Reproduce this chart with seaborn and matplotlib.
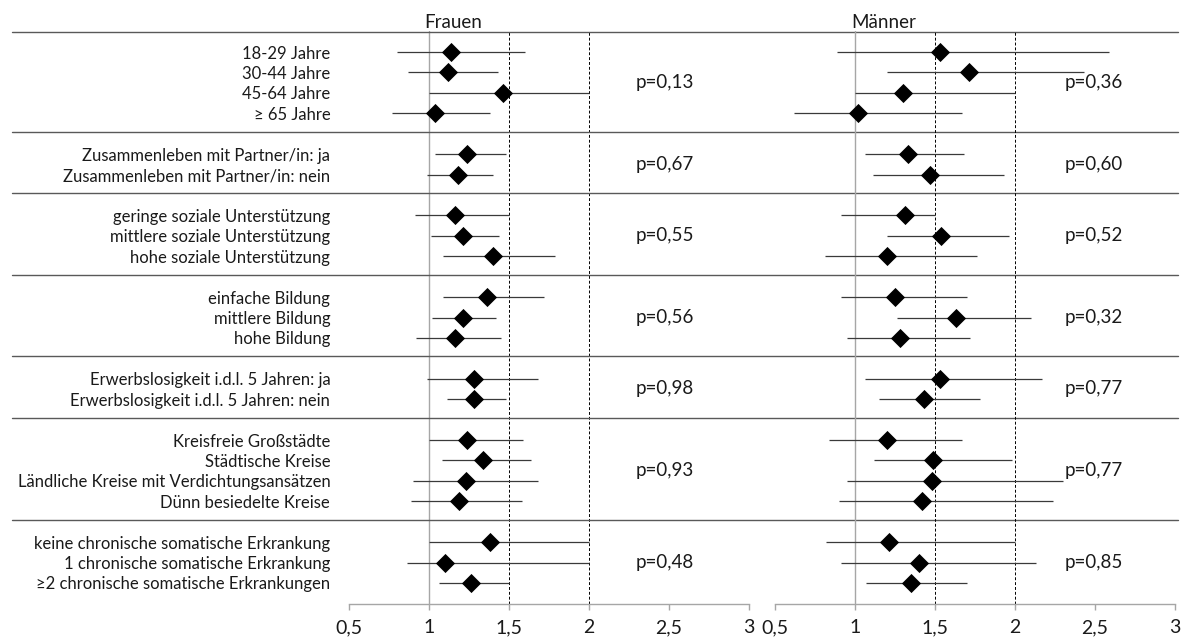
import numpy as np
import pandas as pd
import matplotlib
matplotlib.use("Agg")
import matplotlib.pyplot as plt
import matplotlib.transforms as mtransforms
import seaborn as sns

# rows per block (a blank row is left between blocks)
group_sizes = [4, 2, 3, 3, 2, 4, 3]

labels = [
    "18-29 Jahre", "30-44 Jahre", "45-64 Jahre", "≥ 65 Jahre",
    "Zusammenleben mit Partner/in: ja", "Zusammenleben mit Partner/in: nein",
    "geringe soziale Unterstützung", "mittlere soziale Unterstützung", "hohe soziale Unterstützung",
    "einfache Bildung", "mittlere Bildung", "hohe Bildung",
    "Erwerbslosigkeit i.d.l. 5 Jahren: ja", "Erwerbslosigkeit i.d.l. 5 Jahren: nein",
    "Kreisfreie Großstädte", "Städtische Kreise", "Ländliche Kreise mit Verdichtungsansätzen",
    "Dünn besiedelte Kreise",
    "keine chronische somatische Erkrankung", "1 chronische somatische Erkrankung",
    "≥2 chronische somatische Erkrankungen",
]

frauen_or = [1.14, 1.12, 1.46, 1.04, 1.24, 1.18, 1.16, 1.21, 1.40, 1.36, 1.21, 1.16,
             1.28, 1.28, 1.24, 1.34, 1.23, 1.19, 1.38, 1.10, 1.26]
frauen_lo = [0.80, 0.87, 1.00, 0.77, 1.04, 0.99, 0.91, 1.01, 1.09, 1.09, 1.02, 0.92,
             0.99, 1.11, 1.00, 1.08, 0.90, 0.89, 1.00, 0.86, 1.06]
frauen_hi = [1.60, 1.43, 2.00, 1.38, 1.48, 1.40, 1.50, 1.44, 1.79, 1.72, 1.42, 1.45,
             1.68, 1.48, 1.59, 1.64, 1.68, 1.58, 2.00, 2.00, 1.50]

maenner_or = [1.53, 1.71, 1.30, 1.02, 1.33, 1.47, 1.31, 1.54, 1.20, 1.25, 1.63, 1.28,
              1.53, 1.43, 1.20, 1.49, 1.48, 1.42, 1.21, 1.40, 1.35]
maenner_lo = [0.89, 1.20, 1.00, 0.62, 1.06, 1.11, 0.91, 1.20, 0.81, 0.91, 1.26, 0.95,
              1.06, 1.15, 0.84, 1.12, 0.95, 0.90, 0.82, 0.91, 1.07]
maenner_hi = [2.59, 2.43, 2.00, 1.67, 1.68, 1.93, 1.50, 1.96, 1.76, 1.70, 2.10, 1.72,
              2.17, 1.78, 1.67, 1.98, 2.30, 2.24, 2.00, 2.13, 1.70]

frauen_p = ["p=0,13", "p=0,67", "p=0,55", "p=0,56", "p=0,98", "p=0,93", "p=0,48"]
maenner_p = ["p=0,36", "p=0,60", "p=0,52", "p=0,32", "p=0,77", "p=0,77", "p=0,85"]

x_ticks = [0.5, 1, 1.5, 2, 2.5, 3]
x_tick_labels = ["0,5", "1", "1,5", "2", "2,5", "3"]
panel_titles = ["Frauen", "Männer"]

sns.set_theme(style="white")
plt.rcParams["font.family"] = ["Lato", "DejaVu Sans"]

# y position of every row, with one empty row between the blocks
rows, group_rows, blank_rows = [], [], []
r = 0
for n in group_sizes:
    group_rows.append(list(range(r, r + n)))
    rows.extend(range(r, r + n))
    r += n
    blank_rows.append(r)
    r += 1
blank_rows = blank_rows[:-1]

W, H = 1187, 640
fig = plt.figure(figsize=(W / 100, H / 100), dpi=100)
ax_l = fig.add_axes([349 / W, 1 - 604 / H, 400 / W, 573 / H])
ax_r = fig.add_axes([775 / W, 1 - 604 / H, 400 / W, 573 / H])

panels = [
    (ax_l, frauen_or, frauen_lo, frauen_hi, frauen_p, 1.15, 2.29),
    (ax_r, maenner_or, maenner_lo, maenner_hi, maenner_p, 1.18, 2.31),
]

for i, (ax, odds, lo, hi, pvals, title_x, p_x) in enumerate(panels):
    ax.patch.set_visible(False)
    df = pd.DataFrame({"row": rows, "or": odds, "lo": lo, "hi": hi})

    ax.axvline(1, color="#a6a6a6", lw=1.0, zorder=1)
    for x in (1.5, 2):
        ax.axvline(x, color="black", lw=0.7, ls=(0, (3, 2)), zorder=1)

    ax.hlines(df["row"], df["lo"], df["hi"], color="#3a3a3a", lw=0.9, zorder=3)
    sns.scatterplot(data=df, x="or", y="row", marker="D", s=95, color="black",
                    linewidth=0, legend=False, ax=ax, zorder=5)

    for grp, p in zip(group_rows, pvals):
        ax.text(p_x, np.mean(grp), p, ha="left", va="center", fontsize=13.5,
                color="#1a1a1a")

    ax.text(title_x, -1.45, panel_titles[i], ha="center", va="center",
            fontsize=13.5, color="#1a1a1a", clip_on=False)

    ax.set_xlim(0.5, 3)
    ax.set_ylim(27.03, -1.03)
    ax.set_xticks(x_ticks, x_tick_labels)
    ax.set_xlabel("")
    ax.set_ylabel("")
    sns.despine(ax=ax, left=True, top=True, right=True)
    ax.spines["bottom"].set_color("#a6a6a6")
    ax.spines["bottom"].set_linewidth(1.0)
    ax.tick_params(axis="x", length=4.3, width=1.0, color="#a6a6a6", pad=6.5,
                   labelsize=14, labelcolor="#1a1a1a", bottom=True, direction="out")
    ax.grid(False)

ax_l.set_yticks(rows, labels)
ax_l.tick_params(axis="y", length=0, pad=13.5, labelsize=12.0, labelcolor="#1a1a1a")
ax_r.set_yticks([])

# block separators run across both panels
trans = mtransforms.blended_transform_factory(fig.transFigure, ax_l.transData)
for y in [-1] + [b - 0.1 for b in blank_rows]:
    ax_l.plot([12 / W, 1178 / W], [y, y], transform=trans, color="#595959",
              lw=1.0, clip_on=False, zorder=2)

fig.savefig("out.png", dpi=100)
